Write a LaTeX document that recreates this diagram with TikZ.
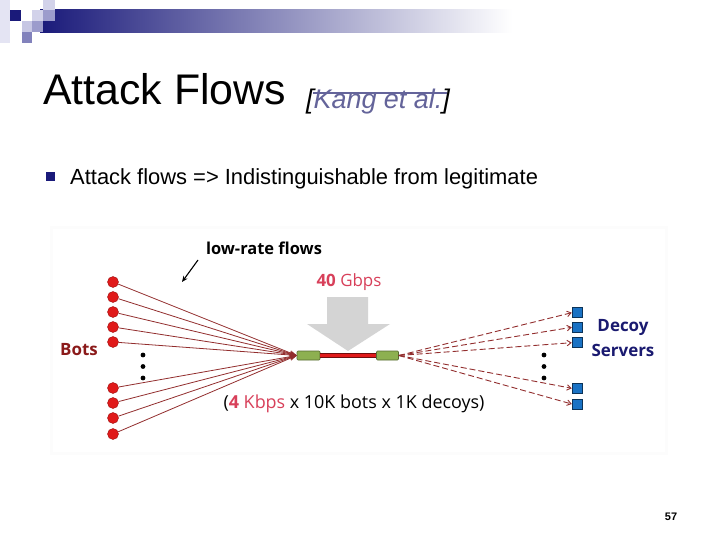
\documentclass[tikz,border=0pt]{standalone}
\usepackage{fontspec}
\setmainfont{Liberation Sans}
\newfontfamily\figfont{Open Sans}
\usetikzlibrary{arrows.meta}
\definecolor{navy}{HTML}{1A1A7A}
\definecolor{lavlight}{HTML}{D2D2EA}
\definecolor{lavmid}{HTML}{9C9CCC}
\definecolor{citegray}{HTML}{64649A}
\definecolor{botred}{HTML}{E01A1A}
\definecolor{flowred}{HTML}{922E2E}
\definecolor{botlabel}{HTML}{8B1A1A}
\definecolor{ratered}{HTML}{D8405A}
\definecolor{linkgreen}{HTML}{8DB050}
\definecolor{decoyblue}{HTML}{1A72C4}
\definecolor{servernavy}{HTML}{1A1A70}
\definecolor{bigarrow}{HTML}{D4D4D4}

\begin{document}
\begin{tikzpicture}[x=1bp, y=-1bp,
    bot/.style={circle, fill=botred, draw=botred!70!black, line width=0.4bp, inner sep=0pt, minimum size=11bp},
    decoy/.style={rectangle, fill=decoyblue, draw=decoyblue!45!black, line width=0.5bp, inner sep=0pt, minimum size=10bp},
    linkbox/.style={rectangle, rounded corners=1bp, fill=linkgreen, draw=linkgreen!60!black, line width=0.6bp, inner sep=0pt, minimum height=9bp},
    flow/.style={draw=flowred, line width=0.8bp, -{Stealth[length=7bp, width=5bp]}},
    decoyflow/.style={draw=flowred, line width=0.9bp, dash pattern=on 6bp off 3bp, -{Straight Barb[length=4bp, width=5.5bp]}},
    figtext/.style={font=\figfont\fontsize{#1}{#1}\selectfont, inner sep=0pt},
    figtext/.default=17]
  \useasboundingbox (0,0) rectangle (720,540);
  \fill[white] (0,0) rectangle (720,540);
  % header bar and squares
  \shade[left color=navy, right color=white] (40,10) rectangle (512,33);
  \fill[lavlight!60] (0,0) rectangle (10,43);
  \fill[navy] (10,10) rectangle (21,21);
  \fill[lavlight] (32,10) rectangle (43,21);
  \fill[lavlight!80!lavmid] (22,21) rectangle (32,32);
  \fill[lavmid] (32,21) rectangle (43,32);
  \fill[lavmid!80!navy] (22,32) rectangle (32,43);
  \fill[lavlight] (43,0) rectangle (55,10);
  \fill[lavmid] (43,10) rectangle (55,21);
  % title
  \node[anchor=base west, inner sep=0pt, font=\fontsize{43}{43}\selectfont] (title) at (43,105) {Attack Flows};
  \node[anchor=base west, inner sep=0pt, font=\itshape\fontsize{27}{27}\selectfont] (cite) at (306,109) {[\textcolor{citegray}{Kang et al.}]};
  \draw[citegray, line width=1.6bp] (313,93) -- (447,93);
  % bullet
  \fill[navy] (46,172) rectangle (55,181);
  \node[anchor=base west, inner sep=0pt, font=\fontsize{22}{22}\selectfont] (point) at (70,185) {Attack flows => Indistinguishable from legitimate};
  % figure
  \fill[black!1] (50,226) rectangle (668,455);
  \fill[white] (53,229) rectangle (665,452);
  \fill[bigarrow] (327,297) -- (368,297) -- (368,324) -- (390,324) -- (348,351) -- (307,324) -- (327,324) -- cycle;
  \node[linkbox, minimum width=23bp] (lnk1) at (308.5,355.5) {};
  \node[linkbox, minimum width=22bp] (lnk2) at (387.5,355.5) {};
  \draw[draw=botred!50!black, double=botred, double distance=3.4bp, line width=0.8bp] (lnk1.east) -- (lnk2.west);
  \foreach \y [count=\i] in {282,297,312,327,342,388,403,418,434}
    \node[bot] (b\i) at (113,\y) {};
  \foreach \i in {1,...,9}
    \draw[flow] (b\i) -- (lnk1.west);
  \foreach \y [count=\i] in {312.7,327.3,342.7,388.3,404}
    \node[decoy] (d\i) at (577,\y) {};
  \foreach \i in {1,...,5}
    \draw[decoyflow] (lnk2.east) -- (d\i.west);
  \foreach \x in {143,544}
    \foreach \y in {355,366.5,378}
      \fill (\x,\y) circle (2.4bp);
  \node[figtext, text=botlabel, font=\figfont\bfseries\fontsize{17}{17}\selectfont] (bots) at (79,350) {Bots};
  \node[figtext, text=servernavy, align=center, font=\figfont\bfseries\fontsize{17}{25}\selectfont] (servers) at (623,338) {Decoy\\Servers};
  \node[figtext=17, text=ratered] (gbps) at (349,282) {\textbf{40} Gbps};
  \node[figtext, font=\figfont\bfseries\fontsize{16.5}{16.5}\selectfont] (lowrate) at (264,248) {low-rate flows};
  \coordinate (lowtail) at (198,260);
  \coordinate (lowtip) at (182,282);
  \draw[line width=1.1bp, -{Stealth[length=6bp, width=5bp]}] (lowtail) -- (lowtip);
  \node[figtext=18] (formula) at (354,404) {(\textcolor{ratered}{\textbf{4} Kbps} x 10K bots x 1K decoys)};
  % page number
  \node[inner sep=0pt, font=\bfseries\fontsize{11}{11}\selectfont] (page) at (671,517) {57};
\end{tikzpicture}
\end{document}
